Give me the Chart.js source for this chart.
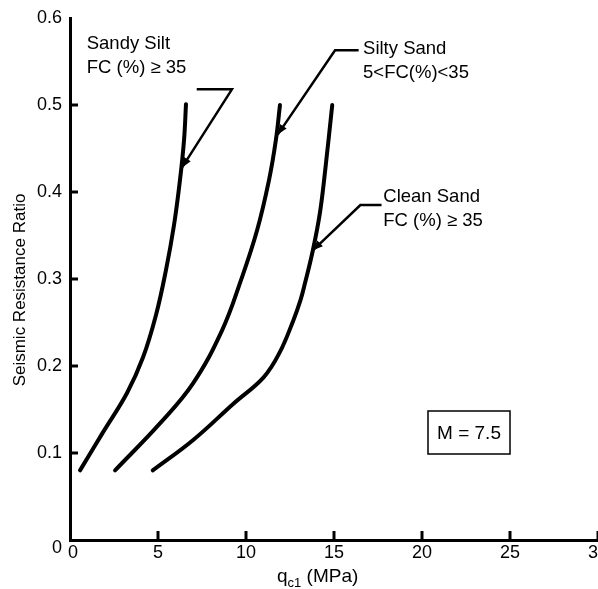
<!DOCTYPE html>
<html>
<head>
<meta charset="utf-8">
<script src="https://cdn.jsdelivr.net/npm/chart.js@4"></script>
<style>
  html, body { margin: 0; padding: 0; background: #fff; }
  #wrap { width: 598px; height: 589px; }
</style>
</head>
<body>
<div id="wrap"><canvas id="chart" width="598" height="589"></canvas></div>
<script>
// --- Data ---
const xTicks = [0, 5, 10, 15, 20, 25, 30];
const yTicks = [0, 0.1, 0.2, 0.3, 0.4, 0.5, 0.6];
const yTickLabels = ["0", "0.1", "0.2", "0.3", "0.4", "0.5", "0.6"];

const sandySiltX = [0.57, 1.88, 3.24, 4.15, 4.89, 5.45, 5.91, 6.25, 6.48, 6.59];
const sandySiltY = [0.080, 0.124, 0.169, 0.210, 0.259, 0.310, 0.362, 0.414, 0.460, 0.501];

const siltySandX = [2.56, 5.11, 6.99, 8.64, 9.72, 10.63, 11.31, 11.70, 11.93];
const siltySandY = [0.080, 0.134, 0.180, 0.241, 0.299, 0.356, 0.414, 0.460, 0.500];

const cleanSandX = [4.7, 7.0, 9.3, 11.0, 11.9, 12.7, 13.1, 13.35, 13.8, 14.2, 14.5, 14.9];
const cleanSandY = [0.08, 0.115, 0.157, 0.187, 0.215, 0.253, 0.276, 0.295, 0.333, 0.376, 0.425, 0.50];

// leader lines (label end -> curve)
const leaderSandySiltX = [7.2, 9.2, 6.36];
const leaderSandySiltY = [0.518, 0.518, 0.428];
const leaderSiltySandX = [16.4, 15.06, 11.8];
const leaderSiltySandY = [0.563, 0.563, 0.466];
const leaderCleanSandX = [17.7, 16.5, 13.8];
const leaderCleanSandY = [0.385, 0.385, 0.333];

const labelLines = [
  { x: 0.95, y: 0.570, lines: ["Sandy Silt", "FC (%) \u2265 35"] },
  { x: 16.65, y: 0.564, lines: ["Silty Sand", "5<FC(%)<35"] },
  { x: 17.8, y: 0.394, lines: ["Clean Sand", "FC (%) \u2265 35"] }
];
const magnitudeText = "M = 7.5";

const FONT = "Liberation Sans, Arial, sans-serif";

function pts(xs, ys) {
  return xs.map((x, i) => ({ x: x, y: ys[i] }));
}

function curve(xs, ys) {
  return {
    data: pts(xs, ys),
    showLine: true,
    borderColor: "#000",
    borderWidth: 4,
    borderCapStyle: "round",
    borderJoinStyle: "round",
    pointRadius: 0,
    tension: 0.4
  };
}

function leader(xs, ys) {
  return {
    data: pts(xs, ys),
    showLine: true,
    borderColor: "#000",
    borderWidth: 2.5,
    pointRadius: 0,
    tension: 0,
    isLeader: true
  };
}

// --- Custom drawing: inward ticks, tick labels, titles, annotations ---
const decorPlugin = {
  id: "decor",
  afterDatasetsDraw(chart) {
    const c = chart.ctx;
    const xs = chart.scales.x, ys = chart.scales.y;
    const area = chart.chartArea;
    c.save();
    c.fillStyle = "#000";
    c.strokeStyle = "#000";

    // inward ticks
    c.lineWidth = 3;
    xTicks.forEach(v => {
      if (v === 0) return;
      const px = xs.getPixelForValue(v);
      c.beginPath(); c.moveTo(px, area.bottom); c.lineTo(px, area.bottom - 9); c.stroke();
    });
    yTicks.forEach(v => {
      if (v === 0 || v === 0.6) return;
      const py = ys.getPixelForValue(v);
      c.beginPath(); c.moveTo(area.left, py); c.lineTo(area.left + 8, py); c.stroke();
    });

    // tick labels
    c.font = "18px " + FONT;
    c.textAlign = "center";
    c.textBaseline = "top";
    xTicks.forEach(v => {
      const px = xs.getPixelForValue(v) + (v === 0 ? 3 : 0);
      c.fillText(String(v), px, area.bottom + 4);
    });
    c.textAlign = "right";
    c.textBaseline = "middle";
    yTicks.forEach((v, i) => {
      const py = ys.getPixelForValue(v) + (v === 0 ? 8 : 0);
      c.fillText(yTickLabels[i], area.left - 8, py);
    });

    // axis titles
    c.save();
    c.translate(20, 290);
    c.rotate(-Math.PI / 2);
    c.textAlign = "center";
    c.textBaseline = "middle";
    c.font = "17px " + FONT;
    c.fillText("Seismic Resistance Ratio", 0, 0);
    c.restore();

    c.textAlign = "left";
    c.textBaseline = "alphabetic";
    c.font = "19px " + FONT;
    const qx = 277, qy = 582;
    c.fillText("q", qx, qy);
    const qw = c.measureText("q").width;
    c.font = "13px " + FONT;
    c.fillText("c1", qx + qw, qy + 5);
    const sw = c.measureText("c1").width;
    c.font = "19px " + FONT;
    c.fillText(" (MPa)", qx + qw + sw, qy);

    // arrowheads on leader ends
    chart.data.datasets.forEach((ds, i) => {
      if (!ds.isLeader) return;
      const meta = chart.getDatasetMeta(i);
      const n = meta.data.length;
      const a = meta.data[n - 2], b = meta.data[n - 1];
      const ang = Math.atan2(b.y - a.y, b.x - a.x);
      const L = 10, W = 4;
      c.beginPath();
      c.moveTo(b.x, b.y);
      c.lineTo(b.x - L * Math.cos(ang) + W * Math.sin(ang), b.y - L * Math.sin(ang) - W * Math.cos(ang));
      c.lineTo(b.x - L * Math.cos(ang) - W * Math.sin(ang), b.y - L * Math.sin(ang) + W * Math.cos(ang));
      c.closePath();
      c.fill();
    });

    // curve labels
    c.font = "18.5px " + FONT;
    c.textAlign = "left";
    c.textBaseline = "middle";
    labelLines.forEach(lb => {
      const px = xs.getPixelForValue(lb.x), py = ys.getPixelForValue(lb.y);
      lb.lines.forEach((t, k) => c.fillText(t, px, py + k * 24));
    });

    // magnitude box
    const bx = 428, by = 411, bw = 82, bh = 43;
    c.lineWidth = 1.5;
    c.strokeRect(bx, by, bw, bh);
    c.font = "19px " + FONT;
    c.textAlign = "center";
    c.fillText(magnitudeText, bx + bw / 2, by + bh / 2 + 1);

    c.restore();
  }
};

const ctx = document.getElementById("chart").getContext("2d");
const chart = new Chart(ctx, {
  type: "scatter",
  data: {
    datasets: [
      curve(sandySiltX, sandySiltY),
      curve(siltySandX, siltySandY),
      curve(cleanSandX, cleanSandY),
      leader(leaderSandySiltX, leaderSandySiltY),
      leader(leaderSiltySandX, leaderSiltySandY),
      leader(leaderCleanSandX, leaderCleanSandY)
    ]
  },
  options: {
    responsive: false,
    animation: false,
    layout: { padding: { top: 18, right: 0, left: 0, bottom: 0 } },
    plugins: { legend: { display: false }, tooltip: { enabled: false } },
    scales: {
      x: {
        type: "linear",
        min: 0, max: 30,
        grid: { display: false, drawTicks: false },
        border: { display: true, color: "#000", width: 3 },
        ticks: { display: false },
        afterFit: s => { s.height = 49; }
      },
      y: {
        type: "linear",
        min: 0, max: 0.6,
        grid: { display: false, drawTicks: false },
        border: { display: true, color: "#000", width: 3 },
        ticks: { display: false },
        afterFit: s => { s.width = 70; }
      }
    }
  },
  plugins: [decorPlugin]
});
</script>
</body>
</html>
